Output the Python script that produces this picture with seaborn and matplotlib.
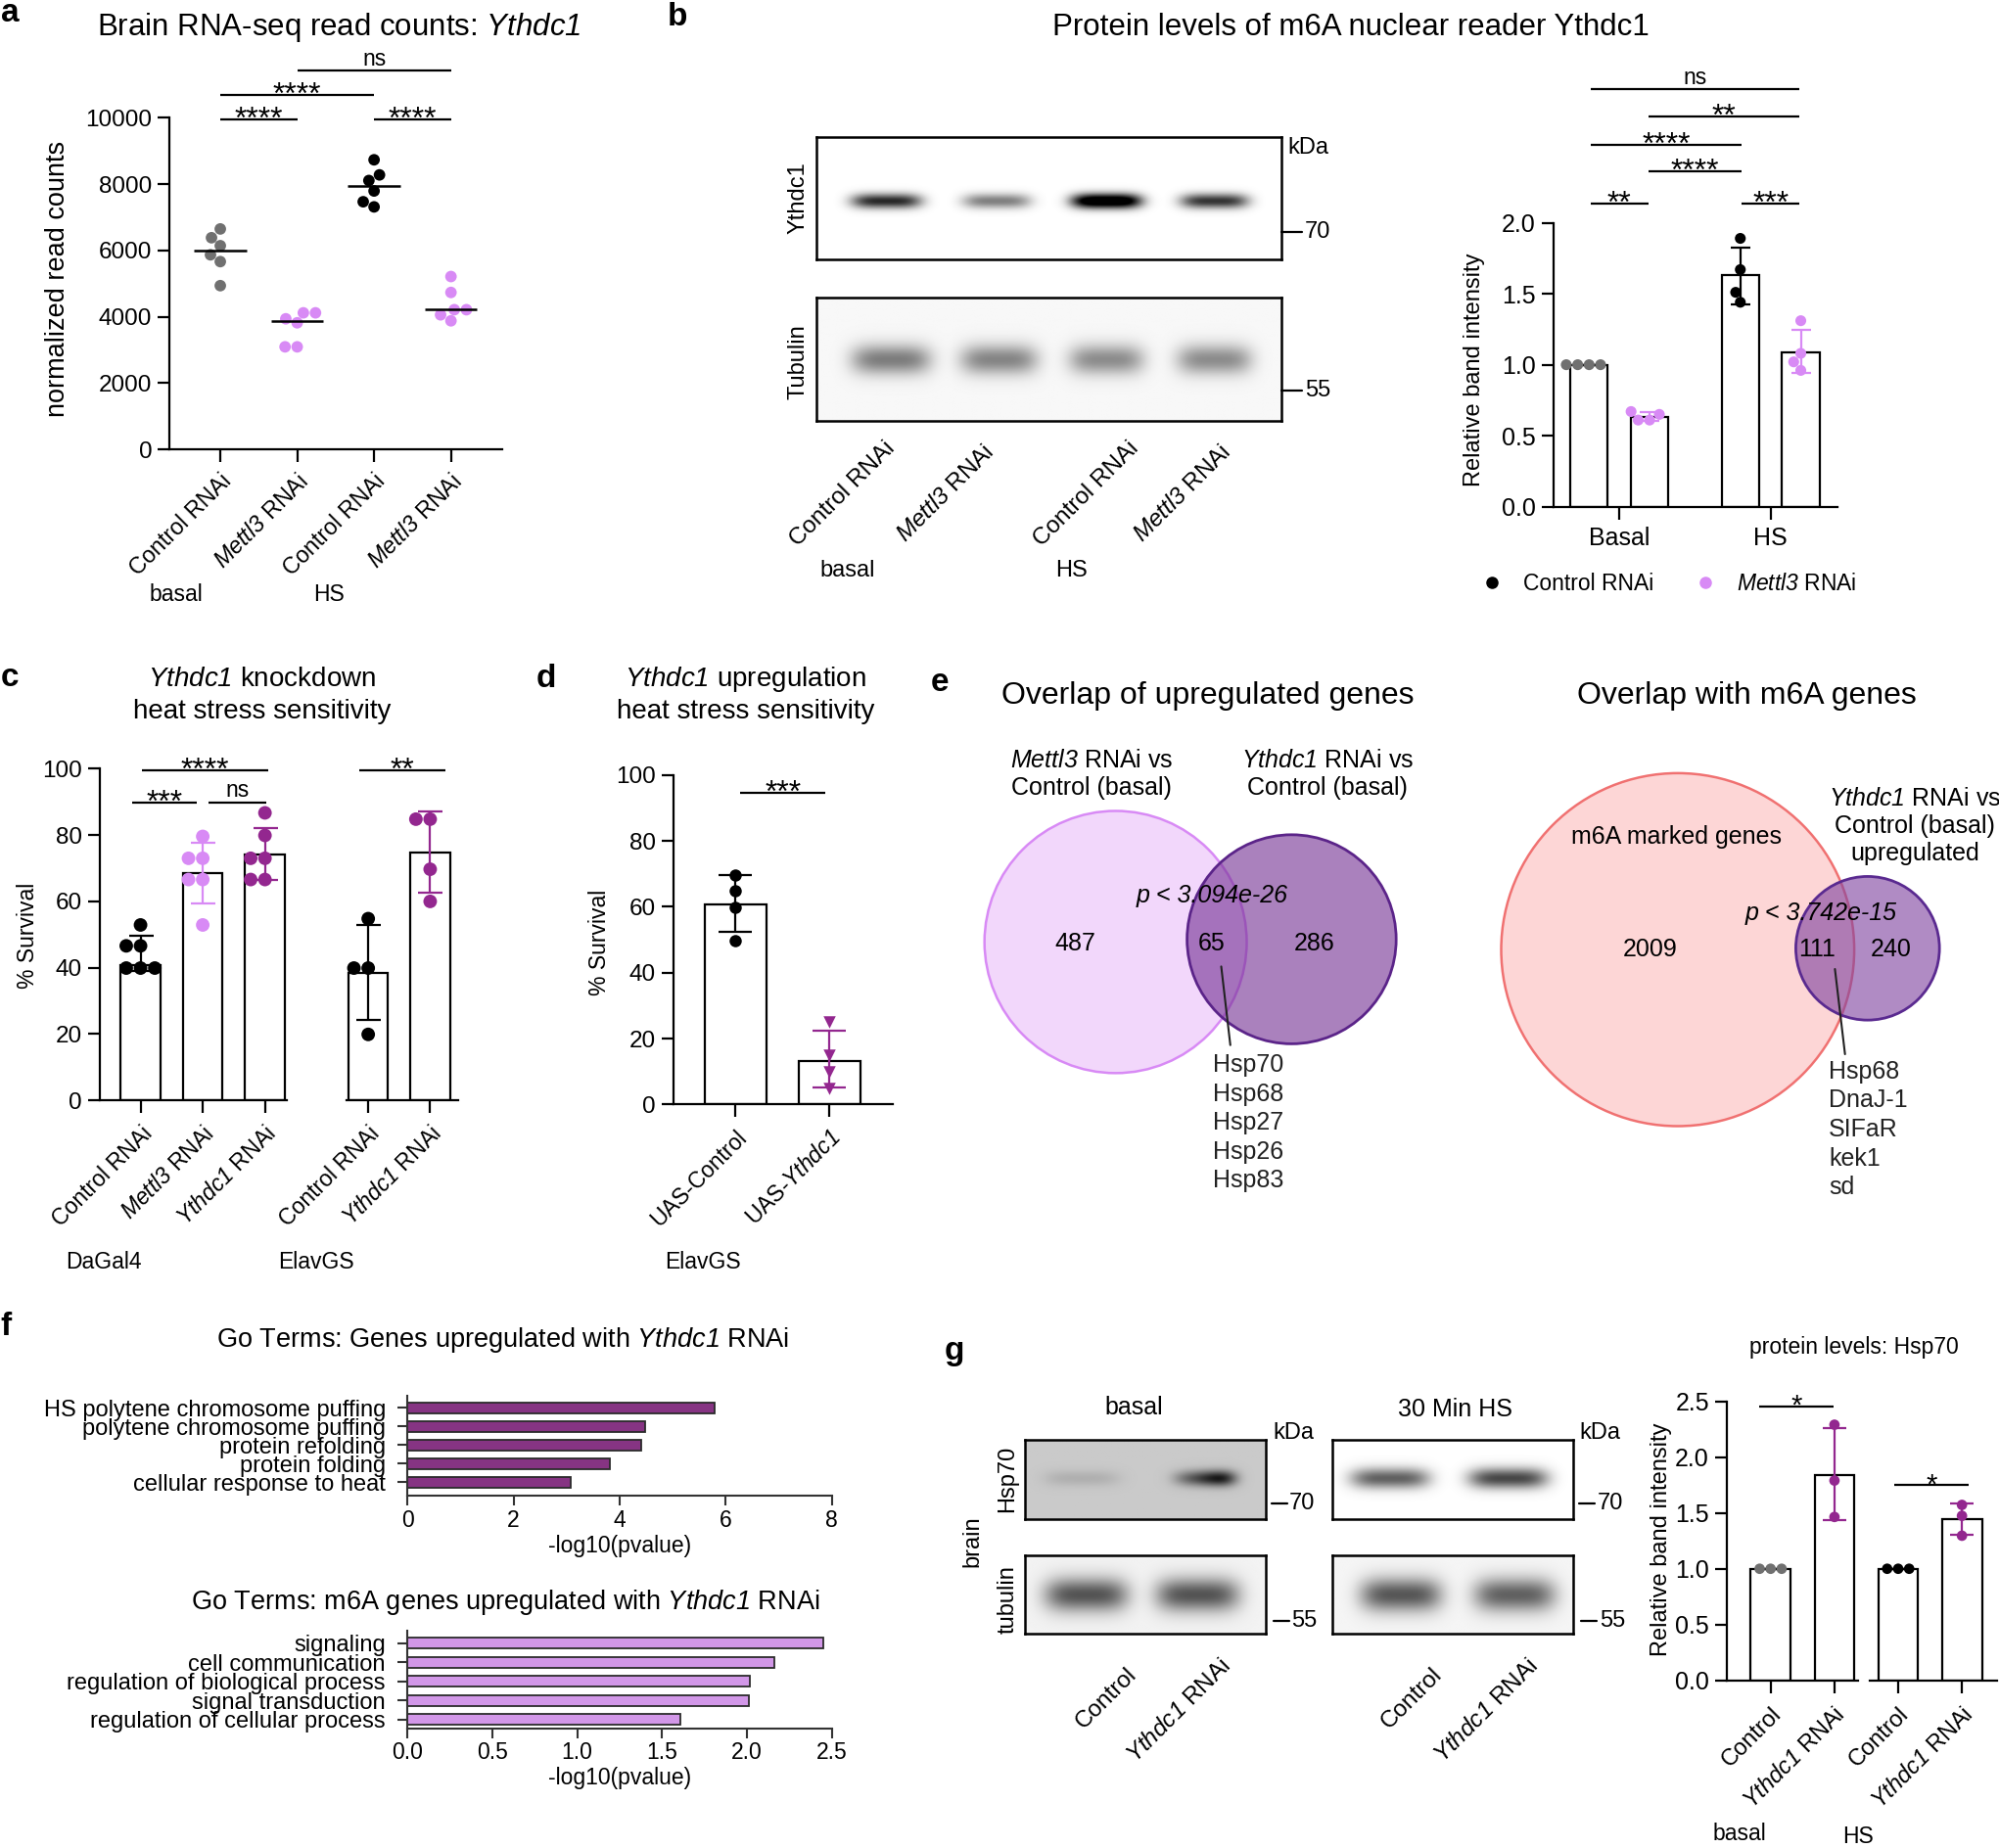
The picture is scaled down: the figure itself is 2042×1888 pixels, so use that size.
import warnings
import numpy as np
import pandas as pd
import matplotlib
matplotlib.use("Agg")
import matplotlib.pyplot as plt
import matplotlib.transforms as mtransforms
from matplotlib.lines import Line2D
from matplotlib.patches import Circle
from matplotlib.ticker import FormatStrFormatter
import seaborn as sns

warnings.filterwarnings("ignore")

sns.set_theme(style="ticks")
plt.rcParams["font.family"] = ["Liberation Sans", "DejaVu Sans"]
# mathtext is only used for gene names, so its "rm" font is the italic face
plt.rcParams["mathtext.fontset"] = "custom"
plt.rcParams["mathtext.rm"] = "Liberation Sans:italic"
plt.rcParams["mathtext.it"] = "Liberation Sans:italic"
plt.rcParams["mathtext.bf"] = "Liberation Sans:bold"
plt.rcParams["axes.linewidth"] = 1.6
plt.rcParams["axes.edgecolor"] = "black"
plt.rcParams["xtick.color"] = "black"
plt.rcParams["ytick.color"] = "black"
plt.rcParams["text.color"] = "black"
plt.rcParams["axes.labelcolor"] = "black"

GREY = "#707070"
PINK = "#d88af5"
PURPLE = "#93278f"

METTL3 = r"$\mathrm{Mettl3}$"
YTHDC1 = r"$\mathrm{Ythdc1}$"

# -------------------------------
# Data
# -------------------------------

# a: brain RNA-seq read counts
a_keys = ["basal_ctrl", "basal_mettl3", "hs_ctrl", "hs_mettl3"]
a_labels = ["Control RNAi", METTL3 + " RNAi", "Control RNAi", METTL3 + " RNAi"]
a_basal_ctrl = [6650, 6385, 6145, 5870, 5665, 4940]
a_basal_mettl3 = [4120, 4120, 3940, 3820, 3095, 3095]
a_hs_ctrl = [8735, 8280, 8110, 7795, 7470, 7315]
a_hs_mettl3 = [5215, 4735, 4215, 4215, 4060, 3880]
a_colors = [GREY, PINK, "black", PINK]

# b: Ythdc1 band intensity
b_conditions = ["Basal", "HS"]
b_genotypes = ["Control RNAi", "Mettl3 RNAi"]
b_bar_heights = [1.00, 0.635, 1.63, 1.09]
b_basal_ctrl = [1.0, 1.0, 1.0, 1.0]
b_basal_mettl3 = [0.61, 0.67, 0.61, 0.65]
b_hs_ctrl = [1.89, 1.67, 1.44, 1.51]
b_hs_mettl3 = [1.31, 1.08, 1.02, 0.96]
b_lane_labels = ["Control RNAi", METTL3 + " RNAi", "Control RNAi", METTL3 + " RNAi"]
b_ythdc1_band = [0.85, 0.50, 1.30, 0.80]
b_tubulin_band = [0.48, 0.45, 0.42, 0.42]

# c: Ythdc1 knockdown survival
c_left_keys = ["ctrl", "mettl3", "ythdc1"]
c_left_labels = ["Control RNAi", METTL3 + " RNAi", YTHDC1 + " RNAi"]
c_left_bars = [40.8, 68.5, 74.2]
c_dagal4_ctrl = [52.9, 46.6, 46.6, 39.9, 39.9, 39.9]
c_dagal4_mettl3 = [79.6, 73.0, 73.0, 66.6, 66.6, 52.9]
c_dagal4_ythdc1 = [86.7, 79.9, 73.0, 73.0, 66.6, 66.6]
c_right_keys = ["ctrl", "ythdc1"]
c_right_labels = ["Control RNAi", YTHDC1 + " RNAi"]
c_right_bars = [38.5, 74.7]
c_elav_ctrl = [54.8, 39.9, 39.9, 19.9]
c_elav_ythdc1 = [84.8, 84.8, 69.7, 60.0]

# d: Ythdc1 upregulation survival
d_keys = ["uas_ctrl", "uas_ythdc1"]
d_labels = ["UAS-Control", "UAS-" + YTHDC1]
d_bars = [60.75, 13.25]
d_ctrl = [69.75, 64.75, 59.75, 49.75]
d_ythdc1 = [25.0, 15.0, 10.0, 5.0]

# e: venn counts
e1_counts = [487, 65, 286]
e1_genes = ["Hsp70", "Hsp68", "Hsp27", "Hsp26", "Hsp83"]
e2_counts = [2009, 111, 240]
e2_genes = ["Hsp68", "DnaJ-1", "SIFaR", "kek1", "sd"]

# f: GO terms
f1_terms = ["HS polytene chromosome puffing", "polytene chromosome puffing",
            "protein refolding", "protein folding", "cellular response to heat"]
f1_vals = [5.79, 4.48, 4.40, 3.81, 3.08]
f2_terms = ["signaling", "cell communication", "regulation of biological process",
            "signal transduction", "regulation of cellular process"]
f2_vals = [2.45, 2.16, 2.02, 2.01, 1.61]

# g: Hsp70 protein levels
g_keys = ["ctrl", "ythdc1"]
g_labels = ["Control", YTHDC1 + " RNAi"]
g_basal_bars = [1.0, 1.84]
g_hs_bars = [1.0, 1.443]
g_basal_ctrl = [1.0, 1.0, 1.0]
g_basal_ythdc1 = [2.29, 1.79, 1.464]
g_hs_ctrl = [1.0, 1.0, 1.0]
g_hs_ythdc1 = [1.572, 1.474, 1.296]
g_basal_hsp70_band = [0.10, 0.55]
g_hs_hsp70_band = [0.62, 0.72]
g_basal_tub_band = [0.62, 0.62]
g_hs_tub_band = [0.62, 0.58]

# -------------------------------
# Helpers
# -------------------------------

W, H = 2042, 1888
fig = plt.figure(figsize=(W / 100, H / 100), dpi=100)


def px_axes(x0, y0, x1, y1):
    return fig.add_axes([x0 / W, 1 - y1 / H, (x1 - x0) / W, (y1 - y0) / H])


def ftext(x, y, s, **kw):
    kw.setdefault("ha", "center")
    kw.setdefault("va", "center")
    return fig.text(x / W, 1 - y / H, s, **kw)


def fline(x0, x1, y0, y1, lw=1.6):
    fig.add_artist(Line2D([x0 / W, x1 / W], [1 - y0 / H, 1 - y1 / H],
                          transform=fig.transFigure, color="black", lw=lw))


def style_axis(ax, fs=16):
    sns.despine(ax=ax)
    ax.tick_params(width=1.6, length=9, labelsize=fs, pad=4)
    ax.set_xlabel("")


def rot_labels(ax, labels, fs, dx_px=8, pad=6):
    ax.set_xticklabels(labels, rotation=45, ha="right", va="top",
                       rotation_mode="anchor", fontsize=fs)
    off = mtransforms.ScaledTranslation(dx_px / 100, 0, fig.dpi_scale_trans)
    for lab in ax.get_xticklabels():
        lab.set_transform(lab.get_transform() + off)
    ax.tick_params(axis="x", pad=pad)


def bracket(ax, x0, x1, y, label, star_fs=23, ns_fs=16.5):
    ax.plot([x0, x1], [y, y], color="black", lw=1.6, clip_on=False,
            solid_capstyle="butt")
    xm = (x0 + x1) / 2
    if "*" in label:
        ax.annotate(label, xy=(xm, y), xytext=(0, -0.28 * star_fs),
                    textcoords="offset points", ha="center", va="baseline",
                    fontsize=star_fs, annotation_clip=False)
    else:
        ax.annotate(label, xy=(xm, y), xytext=(0, 4), textcoords="offset points",
                    ha="center", va="baseline", fontsize=ns_fs,
                    annotation_clip=False)


def sd_bars(ax, xs, groups, colors, capsize, lw=1.6):
    for x, pts, col in zip(xs, groups, colors):
        pts = np.asarray(pts, float)
        ax.errorbar(x, pts.mean(), yerr=pts.std(ddof=1), color=col,
                    capsize=capsize, elinewidth=lw, capthick=lw, zorder=3)


def points_on_top(ax):
    for coll in ax.collections:
        coll.set_zorder(4)


def blot(ax, centers, widths, intens, yc, hgt, bg=0.0, skews=None):
    xs = np.linspace(0, 1, 500)
    ys = np.linspace(0, 1, 160)
    X, Y = np.meshgrid(xs, ys)
    img = np.full(X.shape, float(bg))
    if skews is None:
        skews = [0] * len(centers)
    for c, w, a, s in zip(centers, widths, intens, skews):
        u = (X - c) / (w / 2)
        prof = np.exp(-np.abs(u) ** 4) * np.exp(-((Y - yc) / (hgt / 2)) ** 2)
        img += a * prof * np.clip(1 + s * u, 0.2, None)
    ax.imshow(np.clip(img, 0, 1), cmap="gray_r", vmin=0, vmax=1,
              extent=[0, 1, 1, 0], aspect="auto", interpolation="bilinear")
    ax.set_xticks([])
    ax.set_yticks([])
    for sp in ax.spines.values():
        sp.set_visible(True)
        sp.set_linewidth(1.8)
        sp.set_color("black")


def label_coords(ax, right_px, ax_x0, ax_w, yfrac):
    ax.yaxis.set_label_coords((right_px - ax_x0) / ax_w, yfrac)


# -------------------------------
# Panel a
# -------------------------------

a_values = [a_basal_ctrl, a_basal_mettl3, a_hs_ctrl, a_hs_mettl3]
df_a = pd.DataFrame({
    "grp": np.repeat(a_keys, [len(v) for v in a_values]),
    "val": np.concatenate(a_values),
})
ax_a = px_axes(173.2, 120.4, 512.5, 459.2)
sns.swarmplot(data=df_a, x="grp", y="val", hue="grp", order=a_keys,
              hue_order=a_keys, palette=a_colors, size=8.5, linewidth=0,
              legend=False, ax=ax_a)
med = df_a.groupby("grp")["val"].median().reindex(a_keys)
xpos = np.arange(len(a_keys))
ax_a.hlines(med.values, xpos - 0.34, xpos + 0.34, color="black", lw=1.8, zorder=5)
ax_a.set_xlim(-0.66, 3.66)
ax_a.set_ylim(0, 10000)
ax_a.set_yticks(range(0, 10001, 2000))
ax_a.set_xticks(xpos)
style_axis(ax_a, 17.5)
rot_labels(ax_a, a_labels, 16.8, dx_px=8, pad=6)
ax_a.set_ylabel("normalized read counts", fontsize=19.5)
label_coords(ax_a, 72, 173.2, 339.3, 0.515)
bracket(ax_a, 0, 1, 9940, "****")
bracket(ax_a, 2, 3, 9940, "****")
bracket(ax_a, 0, 2, 10700, "****")
bracket(ax_a, 1, 3, 11420, "ns")
ftext(346, 28, "Brain RNA-seq read counts: " + YTHDC1, fontsize=22.5)
ftext(180.4, 608, "basal", fontsize=16.5)
ftext(335.7, 608, "HS", fontsize=16.5)

# -------------------------------
# Panel b (blot)
# -------------------------------

ax_by = px_axes(833.5, 139.6, 1308.9, 264.9)
blot(ax_by, [0.15, 0.387, 0.623, 0.855], [0.15, 0.145, 0.15, 0.145],
     b_ythdc1_band, 0.527, 0.12)
ax_bt = px_axes(833.5, 303.7, 1308.9, 429.8)
blot(ax_bt, [0.16, 0.392, 0.623, 0.855], [0.17, 0.165, 0.16, 0.16],
     b_tubulin_band, 0.507, 0.24, bg=0.03)
ftext(815, 201.7, "Ythdc1", fontsize=17, rotation=90)
ftext(815, 369.7, "Tubulin", fontsize=17, rotation=90)
ftext(1336.6, 151.4, "kDa", fontsize=17)
fline(1308.9, 1330, 237.2, 237.2)
ftext(1333, 237.2, "70", fontsize=17, ha="left")
fline(1308.9, 1330, 398.6, 398.6)
ftext(1333, 398.6, "55", fontsize=17, ha="left")
for (lx, ly), lab in zip([(903, 447), (1004.5, 451), (1152, 447), (1246.6, 451)],
                         b_lane_labels):
    ftext(lx, ly, lab, fontsize=17.5, rotation=45, ha="right", va="top",
          rotation_mode="anchor")
ftext(865.6, 583.2, "basal", fontsize=17)
ftext(1094.5, 583.2, "HS", fontsize=17)
ftext(1380, 28, "Protein levels of m6A nuclear reader Ythdc1", fontsize=22.5)

# -------------------------------
# Panel b (bar chart)
# -------------------------------

df_bbars = pd.DataFrame({
    "cond": np.repeat(b_conditions, 2),
    "geno": b_genotypes * 2,
    "height": b_bar_heights,
})
b_points = [b_basal_ctrl, b_basal_mettl3, b_hs_ctrl, b_hs_mettl3]
df_bpts = pd.DataFrame({
    "cond": np.repeat(np.repeat(b_conditions, 2), [len(p) for p in b_points]),
    "geno": np.repeat(b_genotypes * 2, [len(p) for p in b_points]),
    "val": np.concatenate(b_points),
})
ax_b = px_axes(1586.7, 227.6, 1876.6, 517.6)
sns.barplot(data=df_bbars, x="cond", y="height", hue="geno", order=b_conditions,
            hue_order=b_genotypes, palette=["white", "white"], edgecolor="black",
            linewidth=1.6, width=0.8, gap=0.38, errorbar=None, legend=False,
            ax=ax_b)
for cond, pal in zip(b_conditions, [{"Control RNAi": GREY, "Mettl3 RNAi": PINK},
                                    {"Control RNAi": "black", "Mettl3 RNAi": PINK}]):
    sns.swarmplot(data=df_bpts[df_bpts["cond"] == cond], x="cond", y="val",
                  hue="geno", order=b_conditions, hue_order=b_genotypes,
                  palette=pal, dodge=True, size=8, linewidth=0, legend=False,
                  ax=ax_b)
points_on_top(ax_b)
sd_bars(ax_b, [-0.2, 0.2, 0.8, 1.2], b_points, ["black", PINK, "black", PINK], 7.5)
ax_b.set_xlim(-0.437, 1.44)
ax_b.set_ylim(0, 2.0)
ax_b.set_yticks(np.arange(0, 2.01, 0.5))
ax_b.yaxis.set_major_formatter(FormatStrFormatter("%.1f"))
style_axis(ax_b, 18)
ax_b.tick_params(axis="x", pad=6)
ax_b.set_ylabel("Relative band intensity", fontsize=17)
label_coords(ax_b, 1517, 1586.7, 289.9, 0.481)
bracket(ax_b, -0.19, 0.19, 2.135, "**")
bracket(ax_b, 0.81, 1.19, 2.135, "***")
bracket(ax_b, 0.19, 0.81, 2.36, "****")
bracket(ax_b, -0.19, 0.81, 2.55, "****")
bracket(ax_b, 0.19, 1.19, 2.75, "**")
bracket(ax_b, -0.19, 1.19, 2.94, "ns")
handles = [Line2D([], [], marker="o", ls="", color="black", markersize=8),
           Line2D([], [], marker="o", ls="", color=PINK, markersize=8)]
ax_b.legend(handles, ["Control RNAi", METTL3 + " RNAi"], ncol=2,
            frameon=False, loc="center", bbox_to_anchor=(0.41, -0.272),
            fontsize=16.5, handlelength=0.8, handletextpad=1.0,
            columnspacing=1.9)

# -------------------------------
# Panel c
# -------------------------------

c_left_pts = [c_dagal4_ctrl, c_dagal4_mettl3, c_dagal4_ythdc1]
c_left_cols = ["black", PINK, PURPLE]
ax_cl = px_axes(101.8, 785.4, 292.9, 1124.2)
sns.barplot(x=c_left_keys, y=c_left_bars, order=c_left_keys, color="white",
            edgecolor="black", linewidth=1.6, width=0.635, ax=ax_cl)
df_cl = pd.DataFrame({
    "grp": np.repeat(c_left_keys, [len(p) for p in c_left_pts]),
    "val": np.concatenate(c_left_pts),
})
sns.swarmplot(data=df_cl, x="grp", y="val", hue="grp", order=c_left_keys,
              hue_order=c_left_keys, palette=c_left_cols, size=10, linewidth=0,
              legend=False, ax=ax_cl)
points_on_top(ax_cl)
sd_bars(ax_cl, [0, 1, 2], c_left_pts, c_left_cols, 9)
ax_cl.set_xlim(-0.657, 2.35)
ax_cl.set_ylim(0, 100)
ax_cl.set_yticks(range(0, 101, 20))
style_axis(ax_cl, 17.5)
rot_labels(ax_cl, c_left_labels, 16.6, dx_px=5, pad=7)
ax_cl.set_ylabel("% Survival", fontsize=16.5)
label_coords(ax_cl, 40, 101.8, 191.1, 0.498)
bracket(ax_cl, 0.03, 2.05, 99.5, "****")
bracket(ax_cl, -0.137, 0.9, 89.8, "***")
bracket(ax_cl, 1.085, 2.02, 89.8, "ns")

c_right_pts = [c_elav_ctrl, c_elav_ythdc1]
c_right_cols = ["black", PURPLE]
ax_cr = px_axes(353.6, 785.4, 467.9, 1124.2)
sns.barplot(x=c_right_keys, y=c_right_bars, order=c_right_keys, color="white",
            edgecolor="black", linewidth=1.6, width=0.635, ax=ax_cr)
df_cr = pd.DataFrame({
    "grp": np.repeat(c_right_keys, [len(p) for p in c_right_pts]),
    "val": np.concatenate(c_right_pts),
})
sns.swarmplot(data=df_cr, x="grp", y="val", hue="grp", order=c_right_keys,
              hue_order=c_right_keys, palette=c_right_cols, size=10, linewidth=0,
              legend=False, ax=ax_cr)
points_on_top(ax_cr)
sd_bars(ax_cr, [0, 1], c_right_pts, c_right_cols, 9)
ax_cr.set_xlim(-0.356, 1.45)
ax_cr.set_ylim(0, 100)
style_axis(ax_cr, 17.5)
ax_cr.spines["left"].set_visible(False)
ax_cr.tick_params(axis="y", left=False, labelleft=False)
ax_cr.set_ylabel("")
rot_labels(ax_cr, c_right_labels, 16.6, dx_px=5, pad=7)
bracket(ax_cr, -0.148, 1.243, 99.5, "**")
ftext(267.9, 693.7, YTHDC1 + " knockdown", fontsize=20)
ftext(267.9, 727.3, "heat stress sensitivity", fontsize=20)
ftext(105.4, 1290, "DaGal4", fontsize=16.5)
ftext(323.2, 1290, "ElavGS", fontsize=16.5)

# -------------------------------
# Panel d
# -------------------------------

ax_d = px_axes(687.7, 791.7, 911.7, 1128.4)
sns.barplot(x=d_keys, y=d_bars, order=d_keys, color="white", edgecolor="black",
            linewidth=1.6, width=0.653, ax=ax_d)
for key, pts, col, mk in zip(d_keys, [d_ctrl, d_ythdc1], ["black", PURPLE], ["o", "v"]):
    sns.stripplot(x=[key] * len(pts), y=pts, order=d_keys, color=col, marker=mk,
                  size=9, jitter=False, linewidth=0, ax=ax_d)
points_on_top(ax_d)
sd_bars(ax_d, [0, 1], [d_ctrl, d_ythdc1], ["black", PURPLE], 12)
ax_d.set_xlim(-0.66, 1.67)
ax_d.set_ylim(0, 100)
ax_d.set_yticks(range(0, 101, 20))
style_axis(ax_d, 17.5)
rot_labels(ax_d, d_labels, 16.5, dx_px=12, pad=7)
ax_d.set_ylabel("% Survival", fontsize=16.5)
label_coords(ax_d, 624, 687.7, 224, 0.491)
bracket(ax_d, 0.05, 0.96, 94.5, "***")
ftext(761.7, 693.7, YTHDC1 + " upregulation", fontsize=20)
ftext(761.7, 727.3, "heat stress sensitivity", fontsize=20)
ftext(718.3, 1290, "ElavGS", fontsize=16.5)

# -------------------------------
# Panel e (venn diagrams)
# -------------------------------

ax_e = px_axes(960, 680, 2042, 1260)
ax_e.set_xlim(960, 2042)
ax_e.set_ylim(1260, 680)
ax_e.axis("off")

k1 = 5.70
r1a = k1 * np.sqrt(e1_counts[0] + e1_counts[1])
r1b = k1 * np.sqrt(e1_counts[1] + e1_counts[2])
ax_e.add_patch(Circle((1139.6, 962.4), r1a, facecolor="#f2d7fb",
                      edgecolor=PINK, lw=1.8))
ax_e.add_patch(Circle((1319.4, 959.6), r1b, facecolor=(117 / 255, 50 / 255, 148 / 255, 0.61),
                      edgecolor="#5b2489", lw=2))
ax_e.text(1115, 777.3, METTL3 + " RNAi vs", fontsize=18, ha="center", va="center")
ax_e.text(1115, 805, "Control (basal)", fontsize=18, ha="center", va="center")
ax_e.text(1356, 777.3, YTHDC1 + " RNAi vs", fontsize=18, ha="center", va="center")
ax_e.text(1356, 805, "Control (basal)", fontsize=18, ha="center", va="center")
ax_e.text(1238.2, 915, "p < 3.094e-26", fontsize=18, fontstyle="italic",
          ha="center", va="center")
for xx, n in zip([1098.8, 1237.2, 1342.2], e1_counts):
    ax_e.text(xx, 964, str(n), fontsize=18, ha="center", va="center")
ax_e.plot([1247.5, 1256.8], [987.4, 1067.7], color="#222222", lw=1.5)
for i, g in enumerate(e1_genes):
    ax_e.text(1238.9, 1088 + 29.6 * i, g, fontsize=18, ha="left", va="center",
              color="#222222")

k2 = 3.916
r2a = k2 * np.sqrt(e2_counts[0] + e2_counts[1])
r2b = k2 * np.sqrt(e2_counts[1] + e2_counts[2])
ax_e.add_patch(Circle((1713.8, 970.2), r2a, facecolor="#fdd6d6",
                      edgecolor="#f07171", lw=1.8))
ax_e.add_patch(Circle((1907.8, 968.8), r2b, facecolor=(128 / 255, 68 / 255, 160 / 255, 0.62),
                      edgecolor="#5a2a90", lw=2))
ax_e.text(1712.6, 855, "m6A marked genes", fontsize=18, ha="center", va="center")
ax_e.text(1956.3, 816.1, YTHDC1 + " RNAi vs", fontsize=18, ha="center", va="center")
ax_e.text(1956.3, 843.9, "Control (basal)", fontsize=18, ha="center", va="center")
ax_e.text(1956.3, 871.6, "upregulated", fontsize=18, ha="center", va="center")
ax_e.text(1860.5, 933.4, "p < 3.742e-15", fontsize=18, fontstyle="italic",
          ha="center", va="center")
for xx, n in zip([1686, 1856, 1932.1], e2_counts):
    ax_e.text(xx, 970.4, str(n), fontsize=18, ha="center", va="center")
ax_e.plot([1874.4, 1884.7], [990, 1077], color="#222222", lw=1.5)
for i, g in enumerate(e2_genes):
    ax_e.text(1868.1, 1094.7 + 29.7 * i, g, fontsize=18, ha="left", va="center",
              color="#222222")
ftext(1233.8, 710.7, "Overlap of upregulated genes", fontsize=23)
ftext(1784.1, 710.7, "Overlap with m6A genes", fontsize=23)

# -------------------------------
# Panel f (GO terms)
# -------------------------------

for box, terms, vals, col, xmax, step, ylim, fmt in [
    ((416.2, 1426.4, 849.6, 1528), f1_terms, f1_vals, PURPLE, 8, 2, (4.73, -0.62), "%d"),
    ((416.2, 1665.7, 849.6, 1765.6), f2_terms, f2_vals, PINK, 2.5, 0.5, (4.45, -0.67), "%.1f"),
]:
    ax_f = px_axes(*box)
    sns.barplot(x=vals, y=terms, order=terms, orient="h", color=col,
                edgecolor="#2b2b2b", linewidth=1.3, width=0.58, ax=ax_f)
    ax_f.set_xlim(0, xmax)
    ax_f.set_ylim(*ylim)
    ax_f.set_xticks(np.arange(0, xmax + 1e-9, step))
    ax_f.xaxis.set_major_formatter(FormatStrFormatter(fmt))
    sns.despine(ax=ax_f)
    for sp in ["left", "bottom"]:
        ax_f.spines[sp].set_color("#333333")
        ax_f.spines[sp].set_linewidth(1.5)
    ax_f.tick_params(width=1.5, length=7, labelsize=16.5, pad=3, color="#333333")
    ax_f.tick_params(axis="y", labelsize=17, pad=9)
    ax_f.set_ylabel("")
    ax_f.set_xlabel("-log10(pvalue)", fontsize=16.5, labelpad=2)
ftext(513.8, 1368.6, "Go Terms: Genes upregulated with " + YTHDC1 + " RNAi", fontsize=19.5)
ftext(516.6, 1636.5, "Go Terms: m6A genes upregulated with " + YTHDC1 + " RNAi", fontsize=19.5)

# -------------------------------
# Panel g (blots)
# -------------------------------

ax_g1 = px_axes(1047, 1471, 1292.6, 1551.5)
blot(ax_g1, [0.236, 0.733], [0.31, 0.27], g_basal_hsp70_band, 0.485, 0.2,
     bg=0.21, skews=[0, 0.7])
ax_g2 = px_axes(1047, 1588.9, 1292.6, 1669.3)
blot(ax_g2, [0.255, 0.718], [0.345, 0.345], g_basal_tub_band, 0.51, 0.42, bg=0.05)
ax_g3 = px_axes(1360.9, 1471, 1607.3, 1551.5)
blot(ax_g3, [0.239, 0.728], [0.325, 0.325], g_hs_hsp70_band, 0.485, 0.26)
ax_g4 = px_axes(1360.9, 1588.9, 1607.3, 1669.3)
blot(ax_g4, [0.284, 0.755], [0.335, 0.335], g_hs_tub_band, 0.51, 0.42, bg=0.04)
ftext(1158.7, 1437.9, "basal", fontsize=18)
ftext(1486.8, 1439.6, "30 Min HS", fontsize=18)
for xk in [1321.6, 1634]:
    ftext(xk, 1464, "kDa", fontsize=17)
for xb in [1292.6, 1607.3]:
    fline(xb + 6, xb + 22, 1535.7, 1535.7)
    ftext(xb + 24, 1535.7, "70", fontsize=17, ha="left")
    fline(xb + 8, xb + 24, 1656.3, 1656.3)
    ftext(xb + 27, 1656.3, "55", fontsize=17, ha="left")
ftext(1029.2, 1511.3, "Hsp70", fontsize=17, rotation=90)
ftext(1029.2, 1633.6, "tubulin", fontsize=17, rotation=90)
ftext(993.5, 1574.2, "brain", fontsize=17, rotation=90)
for (lx, ly), lab in zip([(1149.7, 1700), (1245.7, 1691.3), (1462.2, 1700), (1560.4, 1691.3)],
                         g_labels * 2):
    ftext(lx, ly, lab, fontsize=17.5, rotation=45, ha="right", va="top",
          rotation_mode="anchor")

# -------------------------------
# Panel g (bar charts)
# -------------------------------

for box, bars, pts, cols, xlim, brk, has_y in [
    ((1764, 1431.6, 1898.3, 1716.8), g_basal_bars, [g_basal_ctrl, g_basal_ythdc1],
     [GREY, PURPLE], (-0.686, 1.374), (-0.175, 0.99, 2.454), True),
    ((1910, 1431.6, 2040, 1716.8), g_hs_bars, [g_hs_ctrl, g_hs_ythdc1],
     ["black", PURPLE], (-0.445, 1.55), (-0.06, 1.1, 1.749), False),
]:
    ax_g = px_axes(*box)
    sns.barplot(x=g_keys, y=bars, order=g_keys, color="white", edgecolor="black",
                linewidth=1.6, width=0.626, ax=ax_g)
    df_g = pd.DataFrame({"grp": np.repeat(g_keys, [len(p) for p in pts]),
                         "val": np.concatenate(pts)})
    sns.swarmplot(data=df_g, x="grp", y="val", hue="grp", order=g_keys,
                  hue_order=g_keys, palette=cols, size=7.7, linewidth=0,
                  legend=False, ax=ax_g)
    points_on_top(ax_g)
    sd_bars(ax_g, [0, 1], pts, ["black", PURPLE], 8.3)
    ax_g.set_xlim(*xlim)
    ax_g.set_ylim(0, 2.5)
    ax_g.set_yticks(np.arange(0, 2.51, 0.5))
    ax_g.yaxis.set_major_formatter(FormatStrFormatter("%.1f"))
    style_axis(ax_g, 18)
    rot_labels(ax_g, g_labels, 17, dx_px=8, pad=8)
    bracket(ax_g, brk[0], brk[1], brk[2], "*", star_fs=21)
    if has_y:
        ax_g.set_ylabel("Relative band intensity", fontsize=17)
        label_coords(ax_g, 1708, 1764, 134.3, 0.506)
    else:
        ax_g.spines["left"].set_visible(False)
        ax_g.tick_params(axis="y", left=False, labelleft=False)
        ax_g.set_ylabel("")
ftext(1894, 1376.7, "protein levels: Hsp70", fontsize=16.5)
ftext(1776.7, 1873, "basal", fontsize=16.5)
ftext(1898.3, 1876.5, "HS", fontsize=16.5)

# -------------------------------
# Panel letters
# -------------------------------

for lx, ly, letter in [(10, 14, "a"), (692, 17, "b"), (10, 692.6, "c"),
                       (558, 693, "d"), (960, 698, "e"), (6, 1355, "f"),
                       (974.5, 1380, "g")]:
    ftext(lx, ly, letter, fontsize=24, fontweight="bold")

fig.savefig("out.png", dpi=100)
